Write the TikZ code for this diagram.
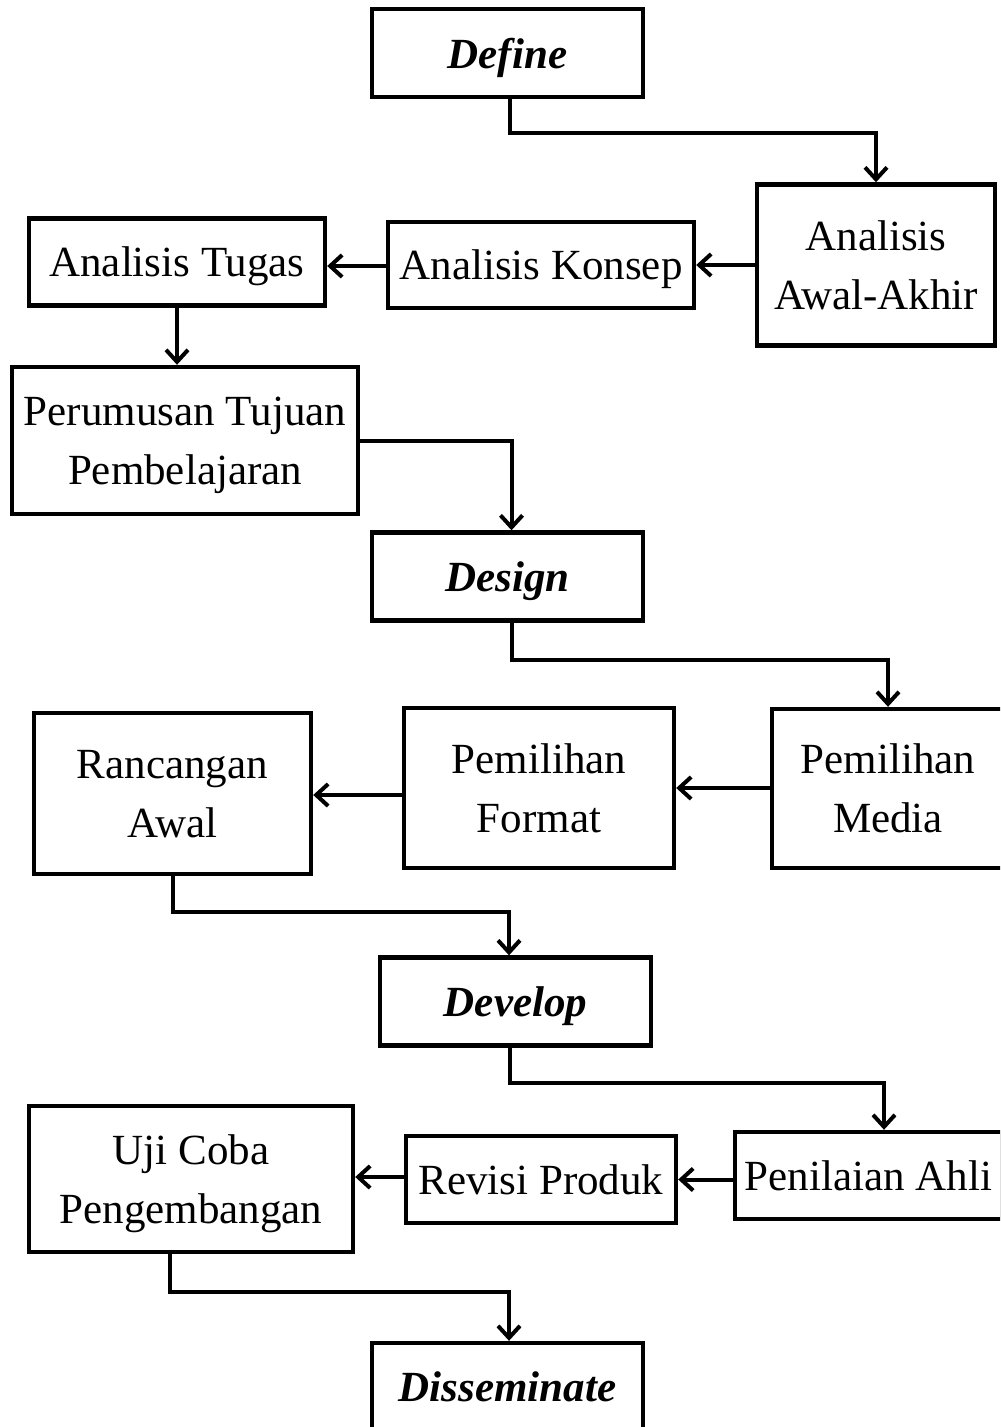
\documentclass[tikz,border=0pt]{standalone}
\usepackage{fontspec}
\setmainfont{Liberation Serif}
\usetikzlibrary{arrows, arrows.meta}

\begin{document}
\begin{tikzpicture}[>={Straight Barb[length=6pt,width=11pt]}, x=0.5pt, y=-0.5pt]
\tikzstyle{box} = [draw, line width=2.2pt, rectangle, align=center, inner sep=0pt, text depth=0pt, font=\fontsize{21.5}{29.5}\selectfont]
\tikzstyle{phase} = [box, minimum width=135.5pt, minimum height=44pt, font=\fontsize{21.5}{29.5}\selectfont\bfseries\itshape]
\tikzstyle{link} = [->, line width=2pt]

\useasboundingbox (0,0) rectangle (1000,1427);
\clip (0,0) rectangle (1000,1427);

%%define
\node (define)[phase] at (507.5,53) {Define};
\node (awalakhir)[box, minimum width=119pt, minimum height=80.5pt] at (876,265) {Analisis\\Awal-Akhir};
\node (konsep)[box, minimum width=153pt, minimum height=43pt] at (541,265) {Analisis Konsep};
\node (tugas)[box, minimum width=148pt, minimum height=43.5pt] at (177,262) {Analisis Tugas};
\node (perumusan)[box, minimum width=173pt, minimum height=73.5pt] at (185,440.5) {Perumusan Tujuan\\Pembelajaran};

%%design
\node (design)[phase] at (507.5,576.5) {Design};
\node (media)[box, minimum width=116pt, minimum height=79.5pt] at (888,788.5) {Pemilihan\\Media};
\node (format)[box, minimum width=135pt, minimum height=80pt] at (539,788) {Pemilihan\\Format};
\node (rancangan)[box, minimum width=138.5pt, minimum height=80.5pt] at (172.5,793.5) {Rancangan\\Awal};

%%develop
\node (develop)[phase] at (515.5,1001.5) {Develop};
\node (penilaian)[box, minimum width=133.5pt, minimum height=43.5pt] at (868.5,1175.5) {Penilaian Ahli};
\node (revisi)[box, minimum width=135pt, minimum height=43.5pt] at (541,1179.5) {Revisi Produk};
\node (ujicoba)[box, minimum width=162pt, minimum height=73pt] at (191,1179) {Uji Coba\\Pengembangan};

%%disseminate
\node (disseminate)[phase] at (507.5,1387) {Disseminate};

%%connectors
\draw [link] ([xshift=1pt]define.south) -- ++(0,34) -| (awalakhir.north);
\draw [link] (awalakhir.west) -- (konsep.east);
\draw [link] (konsep.west |- 0,266) -- (tugas.east |- 0,266);
\draw [link] (tugas.south) -- (tugas.south |- perumusan.north);
\draw [link] (perumusan.east) -| ([xshift=2pt]design.north);

\draw [link] ([xshift=2pt]design.south) -- ++(0,37) -| (media.north);
\draw [link] (media.west |- format.east) -- (format.east);
\draw [link] (format.west |- 0,795) -- (rancangan.east |- 0,795);
\draw [link] (rancangan.south) -- ++(0,36) -| ([xshift=-3.25pt]develop.north);

\draw [link] ([xshift=-2.75pt]develop.south) -- ++(0,35) -| ([xshift=7.75pt]penilaian.north);
\draw [link] (penilaian.west |- revisi.east) -- (revisi.east);
\draw [link] (revisi.west |- 0,1177) -- (ujicoba.east |- 0,1177);
\draw [link] ([xshift=-10.5pt]ujicoba.south) -- ++(0,38) -| ([xshift=0.75pt]disseminate.north);

\end{tikzpicture}
\end{document}
